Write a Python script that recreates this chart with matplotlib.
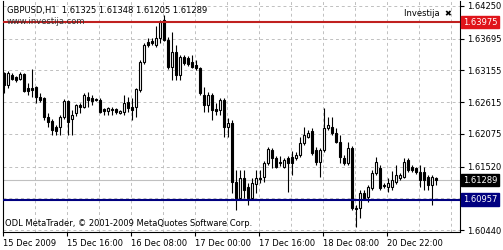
import numpy as np
import matplotlib
matplotlib.use('Agg')
import matplotlib.pyplot as plt

# GBPUSD H1 bars, 15 Dec 2009 00:00 .. 21 Dec 2009
opens = [1.63110, 1.62906, 1.63076, 1.63042, 1.63008, 1.63093, 1.62855, 1.62855, 1.62872, 1.62702,
         1.62685, 1.62362, 1.62294, 1.62192, 1.62192, 1.62362, 1.62634, 1.62328, 1.62430, 1.62566,
         1.62532, 1.62702, 1.62685, 1.62668, 1.62651, 1.62498, 1.62464, 1.62498, 1.62498, 1.62430,
         1.62447, 1.62617, 1.62532, 1.62532, 1.62821, 1.63297, 1.63638, 1.63655, 1.63587, 1.63706,
         1.64012, 1.63672, 1.63212, 1.63467, 1.63076, 1.63382, 1.63365, 1.63297, 1.63246, 1.63195,
         1.62736, 1.62566, 1.62736, 1.62498, 1.62481, 1.62651, 1.62192, 1.62260, 1.61256, 1.60984,
         1.61324, 1.61171, 1.60984, 1.61222, 1.61324, 1.61341, 1.61579, 1.61801, 1.61664, 1.61596,
         1.61511, 1.61664, 1.61682, 1.61664, 1.61716, 1.61920, 1.62022, 1.62124, 1.61801, 1.61596,
         1.61801, 1.62175, 1.62192, 1.62090, 1.61937, 1.61664, 1.61579, 1.61835, 1.60814, 1.60814,
         1.61069, 1.61001, 1.61154, 1.61409, 1.61494, 1.61205, 1.61171, 1.61171, 1.61256, 1.61324,
         1.61341, 1.61630, 1.61511, 1.61494, 1.61426, 1.61426, 1.61341, 1.61205, 1.61325]
highs = [1.63127, 1.63144, 1.63110, 1.63059, 1.63127, 1.63110, 1.62940, 1.63178, 1.62889, 1.62770,
         1.62702, 1.62430, 1.62328, 1.62226, 1.62396, 1.62668, 1.62651, 1.62481, 1.62583, 1.62600,
         1.62770, 1.62787, 1.62736, 1.62685, 1.62685, 1.62515, 1.62532, 1.62532, 1.62515, 1.62481,
         1.62736, 1.62702, 1.62685, 1.62855, 1.63331, 1.63621, 1.63706, 1.63706, 1.63910, 1.64012,
         1.64097, 1.63723, 1.63808, 1.63587, 1.63416, 1.63416, 1.63399, 1.63416, 1.63331, 1.63212,
         1.62872, 1.62787, 1.62770, 1.62600, 1.62685, 1.62685, 1.62345, 1.62311, 1.61460, 1.61460,
         1.61460, 1.61239, 1.61324, 1.61460, 1.61460, 1.61613, 1.61852, 1.61835, 1.61699, 1.61699,
         1.61664, 1.61699, 1.61784, 1.61767, 1.62022, 1.62192, 1.62141, 1.62175, 1.61852, 1.61835,
         1.62515, 1.62362, 1.62362, 1.62175, 1.62056, 1.61716, 1.61937, 1.61869, 1.60865, 1.61120,
         1.61120, 1.61205, 1.61460, 1.61682, 1.61545, 1.61239, 1.61324, 1.61443, 1.61545, 1.61409,
         1.61664, 1.61664, 1.61545, 1.61511, 1.61545, 1.61511, 1.61375, 1.61375, 1.61348]
lows = [1.62770, 1.62855, 1.62991, 1.62957, 1.62991, 1.62787, 1.62736, 1.62702, 1.62600, 1.62617,
        1.62311, 1.62192, 1.62056, 1.62056, 1.62056, 1.62328, 1.62056, 1.62056, 1.62379, 1.62430,
        1.62515, 1.62532, 1.62566, 1.62634, 1.62430, 1.62396, 1.62396, 1.62396, 1.62413, 1.62413,
        1.62396, 1.62447, 1.62311, 1.62362, 1.62787, 1.63263, 1.63553, 1.63587, 1.63553, 1.63621,
        1.63655, 1.63178, 1.62991, 1.62991, 1.62991, 1.63246, 1.63229, 1.63195, 1.63161, 1.62736,
        1.62447, 1.62447, 1.62311, 1.62396, 1.62396, 1.62022, 1.62022, 1.61069, 1.60780, 1.60950,
        1.60984, 1.60865, 1.60950, 1.61069, 1.61239, 1.61256, 1.61545, 1.61494, 1.61494, 1.61528,
        1.61494, 1.61086, 1.61375, 1.61630, 1.61682, 1.61886, 1.62005, 1.61716, 1.61545, 1.61341,
        1.61767, 1.62141, 1.62056, 1.61920, 1.61579, 1.61545, 1.61545, 1.60780, 1.60491, 1.60644,
        1.60950, 1.60916, 1.61120, 1.61375, 1.61120, 1.61154, 1.61086, 1.61120, 1.61222, 1.61290,
        1.61324, 1.61426, 1.61426, 1.61392, 1.61171, 1.61120, 1.61120, 1.60865, 1.61205]
closes = [1.62906, 1.63110, 1.63008, 1.62991, 1.63093, 1.62804, 1.62804, 1.62821, 1.62702, 1.62651,
          1.62362, 1.62277, 1.62141, 1.62124, 1.62362, 1.62634, 1.62277, 1.62396, 1.62566, 1.62532,
          1.62736, 1.62651, 1.62634, 1.62651, 1.62447, 1.62464, 1.62515, 1.62481, 1.62447, 1.62464,
          1.62600, 1.62515, 1.62481, 1.62838, 1.63297, 1.63587, 1.63587, 1.63621, 1.63706, 1.63978,
          1.63672, 1.63212, 1.63467, 1.63076, 1.63382, 1.63280, 1.63263, 1.63212, 1.63195, 1.62770,
          1.62566, 1.62736, 1.62481, 1.62464, 1.62651, 1.62192, 1.62260, 1.61256, 1.60984, 1.61324,
          1.61120, 1.60984, 1.61239, 1.61324, 1.61307, 1.61579, 1.61818, 1.61664, 1.61511, 1.61579,
          1.61630, 1.61579, 1.61579, 1.61716, 1.61920, 1.62056, 1.62090, 1.61750, 1.61596, 1.61801,
          1.62175, 1.62226, 1.62090, 1.61937, 1.61682, 1.61579, 1.61835, 1.60814, 1.60800, 1.61069,
          1.60984, 1.61171, 1.61409, 1.61596, 1.61154, 1.61188, 1.61239, 1.61290, 1.61375, 1.61375,
          1.61596, 1.61460, 1.61460, 1.61426, 1.61290, 1.61290, 1.61205, 1.61341, 1.61289]

time_labels = ['15 Dec 2009', '15 Dec 16:00', '16 Dec 08:00', '17 Dec 00:00',
               '17 Dec 16:00', '18 Dec 08:00', '20 Dec 22:00']
label_bars = [0, 16, 32, 48, 64, 80, 96]
price_ticks = [1.64250, 1.63695, 1.63155, 1.62615, 1.62075, 1.61520, 1.60980, 1.60440]
# 1.60980 sits under the support price box, so it is not shown
price_labels = ['1.64250', '1.63695', '1.63155', '1.62615', '1.62075', '1.61520', '', '1.60440']

resistance = 1.63975
support = 1.60957
bid = 1.61289

plt.rcParams['font.family'] = ['DejaVu Sans']
fs = 6

o = np.array(opens)
h = np.array(highs)
l = np.array(lows)
c = np.array(closes)
x = np.arange(len(o))
up = c >= o

fig = plt.figure(figsize=(5.03, 2.5), dpi=100)
ax = fig.add_axes([3 / 503, 18 / 250, 457 / 503, 231 / 250])

# candles
ax.vlines(x, l, h, color='black', lw=0.8, zorder=3)
body_low = np.minimum(o, c)
body_h = np.maximum(np.abs(c - o), 0.00004)
ax.bar(x[up], body_h[up], bottom=body_low[up], width=0.62, facecolor='white',
       edgecolor='black', lw=0.8, zorder=4)
ax.bar(x[~up], body_h[~up], bottom=body_low[~up], width=0.62, facecolor='black',
       edgecolor='black', lw=0.8, zorder=4)

ax.set_xlim(-0.25, 114)
ax.set_ylim(1.60406, 1.64335)

# axes and grid
ax.set_xticks([b - 0.25 for b in label_bars])
ax.set_xticklabels(time_labels, ha='left', fontsize=fs)
ax.set_xticks(np.arange(-0.25, 114, 8), minor=True)
ax.tick_params(axis='x', which='major', length=3, width=0.8, pad=2)
ax.tick_params(axis='x', which='minor', length=0)
ax.yaxis.tick_right()
ax.set_yticks(price_ticks)
ax.set_yticklabels(price_labels, fontsize=fs)
ax.tick_params(axis='y', length=3, width=0.8, pad=2)
ax.grid(True, which='both', color='#c0c0c0', linestyle=(0, (3, 3)), lw=0.7, zorder=0)
ax.spines['top'].set_visible(False)
for s in ['left', 'right', 'bottom']:
    ax.spines[s].set_linewidth(0.8)

# bid line and horizontal levels
ax.axhline(bid, color='#c0c0c0', lw=0.8, zorder=1)
ax.axhline(resistance, color='#c0201f', lw=1.5, zorder=5)
ax.axhline(support, color='#000080', lw=1.5, zorder=5)

for val, col in [(resistance, '#e0141a'), (bid, 'black'), (support, '#000080')]:
    ax.annotate('%.5f' % val, xy=(1, val), xycoords=('axes fraction', 'data'),
                xytext=(3, 0), textcoords='offset pixels', ha='left', va='center',
                fontsize=fs, color='white', annotation_clip=False, zorder=10,
                bbox=dict(boxstyle='square,pad=0.2', fc=col, ec=col))

# texts
fig.text(7 / 503, 1 - 11 / 250, 'GBPUSD,H1  1.61325 1.61348 1.61205 1.61289',
         fontsize=fs, va='center', ha='left', color='black')
fig.text(7 / 503, 1 - 21.5 / 250, 'www.investija.com', fontsize=fs, va='center',
         ha='left', color='#333333')
fig.text(404 / 503, 1 - 13 / 250, 'Investija  \u2716', fontsize=fs, va='center',
         ha='left', color='black')
fig.text(5 / 503, 1 - 224 / 250, 'ODL MetaTrader, \u00a9 2001-2009 MetaQuotes Software Corp.',
         fontsize=fs, va='center', ha='left', color='black')

fig.savefig('out.png', dpi=100)
